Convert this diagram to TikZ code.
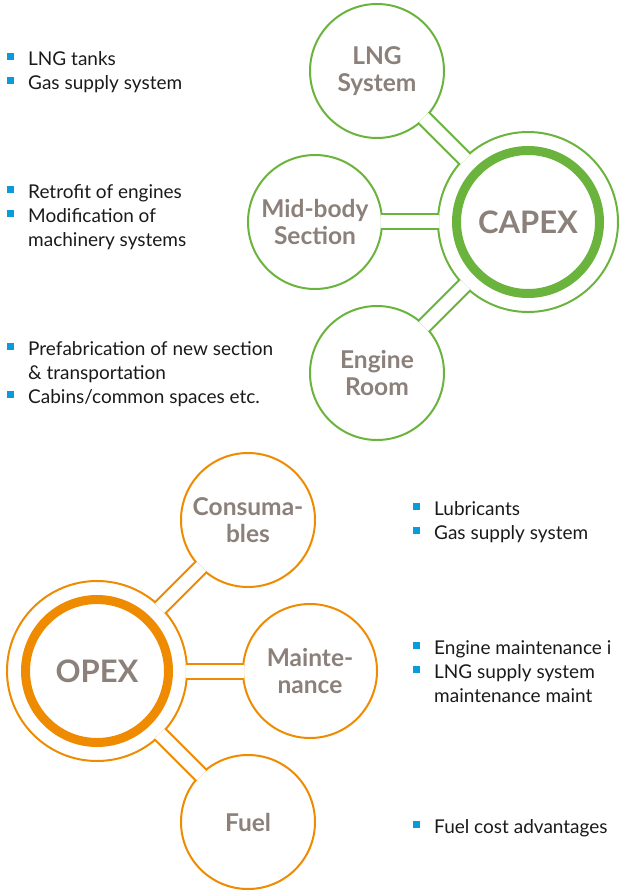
\documentclass[tikz,border=0pt]{standalone}
\usepackage{fontspec}
\setmainfont{Lato}
\usetikzlibrary{positioning}

\definecolor{capexgreen}{HTML}{6AB43E}
\definecolor{opexorange}{HTML}{EF8B00}
\definecolor{labelgray}{HTML}{8B807A}
\definecolor{bulletblue}{HTML}{0A9BDD}
\definecolor{itemblack}{HTML}{1A1A1A}

\newcommand{\bsq}{\makebox[21pt][l]{\textcolor{bulletblue}{\rule[5pt]{7pt}{7pt}}}}
\newcommand{\bind}{\hspace*{21pt}}

\begin{document}
\begin{tikzpicture}[
    x=1pt, y=1pt,
    ring/.style={circle, draw, line width=2pt, minimum size=180pt, inner sep=0pt},
    core/.style={circle, draw, line width=9pt, minimum size=143pt, inner sep=0pt, text=labelgray, font=\bfseries\fontsize{31}{31}\selectfont},
    bubble/.style={circle, draw, fill=white, line width=2pt, minimum size=134pt, inner sep=0pt, align=center, text=labelgray, font=\bfseries\fontsize{24.5}{27}\selectfont},
    pipe/.style={line width=2pt, double=white, double distance=13pt, shorten <=-2.3pt, shorten >=-2.3pt},
    bullets/.style={anchor=north west, inner sep=0pt, align=left, text=itemblack, font=\fontsize{19}{24}\selectfont}
]
\useasboundingbox (0,0) rectangle (618,-890);

% CAPEX
\node[ring, draw=capexgreen] (capex) at (528,-222) {};
\node[core, draw=capexgreen] (capexcore) at (capex) {CAPEX};
\node[bubble, draw=capexgreen] (lng) at (377,-71) {LNG\\System};
\node[bubble, draw=capexgreen] (midbody) at (315,-222) {Mid-body\\Section};
\node[bubble, draw=capexgreen] (engroom) at (377,-373) {Engine\\Room};
\foreach \sat in {lng,midbody,engroom}
    \draw[pipe, capexgreen] (capex) -- (\sat);

\node[bullets] (lngitems) at (7,-51) {\bsq LNG tanks\\\bsq Gas supply system};
\node[bullets] (miditems) at (7,-184) {\bsq Retrofit of engines\\\bsq Modification of\\\bind machinery systems};
\node[bullets] (engitems) at (7,-341) {\bsq Prefabrication of new section\\\bind \& transportation\\\bsq Cabins/common spaces etc.};

% OPEX
\node[ring, draw=opexorange] (opex) at (97,-671) {};
\node[core, draw=opexorange] (opexcore) at (opex) {OPEX};
\node[bubble, draw=opexorange] (consum) at (248,-520) {Consuma-\\bles};
\node[bubble, draw=opexorange] (maint) at (310,-671) {Mainte-\\nance};
\node[bubble, draw=opexorange] (fuel) at (248,-822) {Fuel};
\foreach \sat in {consum,maint,fuel}
    \draw[pipe, opexorange] (opex) -- (\sat);

\node[bullets] (consitems) at (413,-501) {\bsq Lubricants\\\bsq Gas supply system};
\node[bullets] (maintitems) at (413,-640) {\bsq Engine maintenance i\\\bsq LNG supply system\\\bind maintenance maint};
\node[bullets] (fuelitems) at (413,-819) {\bsq Fuel cost advantages};
\end{tikzpicture}
\end{document}
